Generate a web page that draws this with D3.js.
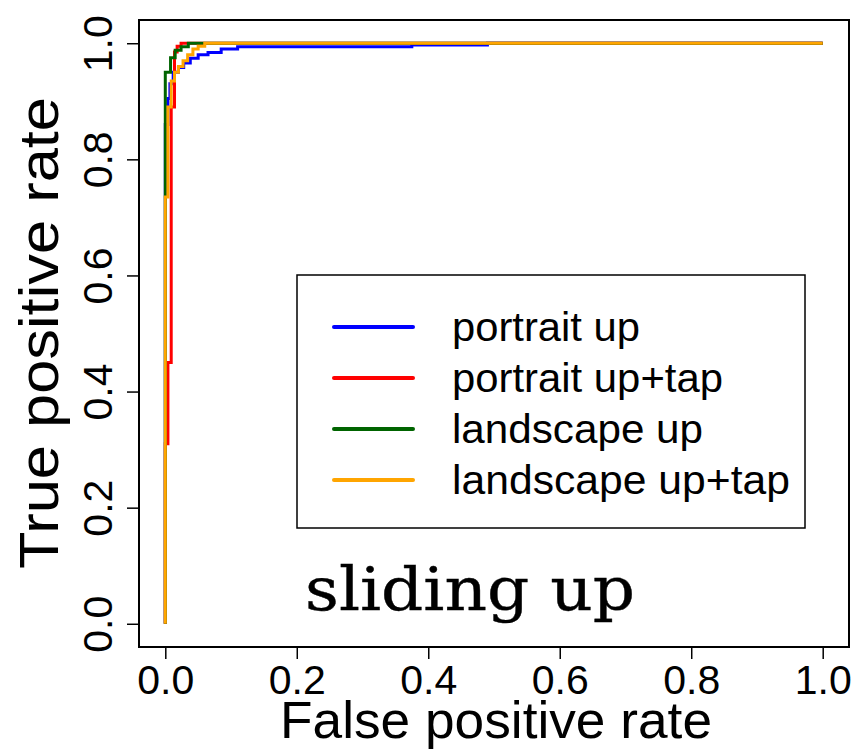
<!DOCTYPE html>
<html><head><meta charset="utf-8">
<script src="https://cdn.jsdelivr.net/npm/d3@7/dist/d3.min.js"></script>
<style>html,body{margin:0;padding:0;background:#fff;}svg{display:block;}</style>
</head><body>
<script>
const seriesNames = ["portrait up", "portrait up+tap", "landscape up", "landscape up+tap"];
const seriesColors = ["#0000FF", "#FF0000", "#006400", "#FFA500"];
const blueFpr = [0,0,0.004,0.004,0.007,0.007,0.012,0.012,0.02,0.02,0.028,0.028,0.038,0.038,0.05,0.05,0.065,0.065,0.085,0.085,0.11,0.11,0.375,0.375,0.49,0.49,1];
const blueTpr = [0,0.86,0.86,0.905,0.905,0.93,0.93,0.95,0.95,0.958,0.958,0.966,0.966,0.974,0.974,0.98,0.98,0.984,0.984,0.99,0.99,0.994,0.994,0.997,0.997,1,1];
const redFpr = [0,0,0.004,0.004,0.009,0.009,0.014,0.014,0.018,0.018,0.024,0.024,1];
const redTpr = [0,0.31,0.31,0.45,0.45,0.89,0.89,0.985,0.985,0.995,0.995,1,1];
const greenFpr = [0,0,0.008,0.008,0.015,0.015,0.024,0.024,0.035,0.035,1];
const greenTpr = [0,0.95,0.95,0.975,0.975,0.988,0.988,0.994,0.994,1,1];
const orangeFpr = [0,0,0.004,0.004,0.009,0.009,0.014,0.014,0.02,0.02,0.027,0.027,0.034,0.034,0.042,0.042,0.05,0.05,0.06,0.06,1];
const orangeTpr = [0,0.735,0.735,0.89,0.89,0.935,0.935,0.95,0.95,0.96,0.96,0.97,0.97,0.98,0.98,0.99,0.99,0.995,0.995,1,1];
const tickValues = [0, 0.2, 0.4, 0.6, 0.8, 1.0];
const xTitle = "False positive rate";
const yTitle = "True positive rate";
const panelLabel = "sliding up";

const series = [
  {name: seriesNames[0], color: seriesColors[0], fpr: blueFpr, tpr: blueTpr},
  {name: seriesNames[1], color: seriesColors[1], fpr: redFpr, tpr: redTpr},
  {name: seriesNames[2], color: seriesColors[2], fpr: greenFpr, tpr: greenTpr},
  {name: seriesNames[3], color: seriesColors[3], fpr: orangeFpr, tpr: orangeTpr}
];

const W = 855, H = 750;
const L = 139, R = 849, T = 20, B = 647;
const svg = d3.select("body").append("svg").attr("width", W).attr("height", H);
const x = d3.scaleLinear().domain([-0.04, 1.04]).range([L, R]);
const y = d3.scaleLinear().domain([-0.04, 1.04]).range([B, T]);
const font = "'Liberation Sans', Arial, sans-serif";

// curves
const line = d3.line().x(d => x(d[0])).y(d => y(d[1]));
series.forEach(s => {
  const pts = s.fpr.map((f, i) => [f, s.tpr[i]]);
  svg.append("path").datum(pts).attr("d", line)
    .attr("fill", "none").attr("stroke", s.color).attr("stroke-width", 3)
    .attr("stroke-linejoin", "miter").attr("stroke-linecap", "butt");
});

// axes
const xAxis = svg.append("g").attr("transform", `translate(0,${B})`)
  .call(d3.axisBottom(x).tickValues(tickValues).tickFormat(d3.format(".1f")).tickSize(12));
xAxis.select(".domain").remove();
xAxis.selectAll("line").attr("stroke", "#000").attr("stroke-width", 1.5);
xAxis.selectAll("text").attr("font-family", font).attr("font-size", 41).attr("fill", "#000")
  .attr("dy", null).attr("y", 47);

const yAxis = svg.append("g").attr("transform", `translate(${L},0)`)
  .call(d3.axisLeft(y).tickValues(tickValues).tickFormat(d3.format(".1f")).tickSize(12));
yAxis.select(".domain").remove();
yAxis.selectAll("line").attr("stroke", "#000").attr("stroke-width", 1.5);
yAxis.selectAll("text").attr("font-family", font).attr("font-size", 41).attr("fill", "#000")
  .attr("x", null).attr("dy", null).attr("text-anchor", "middle")
  .attr("transform", "translate(-27,0) rotate(-90)");

// frame
svg.append("rect").attr("x", L).attr("y", T).attr("width", R - L).attr("height", B - T)
  .attr("fill", "none").attr("stroke", "#000").attr("stroke-width", 2);

// titles
svg.append("text").attr("x", 496).attr("y", 738).attr("text-anchor", "middle")
  .attr("font-family", font).attr("font-size", 52).attr("fill", "#000")
  .attr("textLength", 432).attr("lengthAdjust", "spacingAndGlyphs").text(xTitle);
svg.append("text").attr("transform", `translate(58,333) rotate(-90)`)
  .attr("text-anchor", "middle").attr("font-family", font).attr("font-size", 56).attr("fill", "#000")
  .attr("textLength", 472).attr("lengthAdjust", "spacingAndGlyphs").text(yTitle);

// legend
const lg = svg.append("g");
lg.append("rect").attr("x", 297).attr("y", 275).attr("width", 508).attr("height", 253)
  .attr("fill", "#fff").attr("stroke", "#000").attr("stroke-width", 1.5);
const legendLens = [188, 271, 251, 338];
series.forEach((s, i) => {
  const yy = 327 + i * 51;
  lg.append("line").attr("x1", 334).attr("x2", 413).attr("y1", yy).attr("y2", yy)
    .attr("stroke", s.color).attr("stroke-width", 4).attr("stroke-linecap", "round");
  lg.append("text").attr("x", 452).attr("y", yy + 14).attr("font-family", font)
    .attr("font-size", 41).attr("fill", "#000")
    .attr("textLength", legendLens[i]).attr("lengthAdjust", "spacingAndGlyphs").text(s.name);
});

// panel label
svg.append("text").attr("x", 305).attr("y", 610).attr("font-family", "'DejaVu Serif', serif")
  .attr("font-size", 60).attr("fill", "#000").attr("stroke", "#000").attr("stroke-width", 0.4)
  .attr("textLength", 330).attr("lengthAdjust", "spacingAndGlyphs").text(panelLabel);
</script>
</body></html>
